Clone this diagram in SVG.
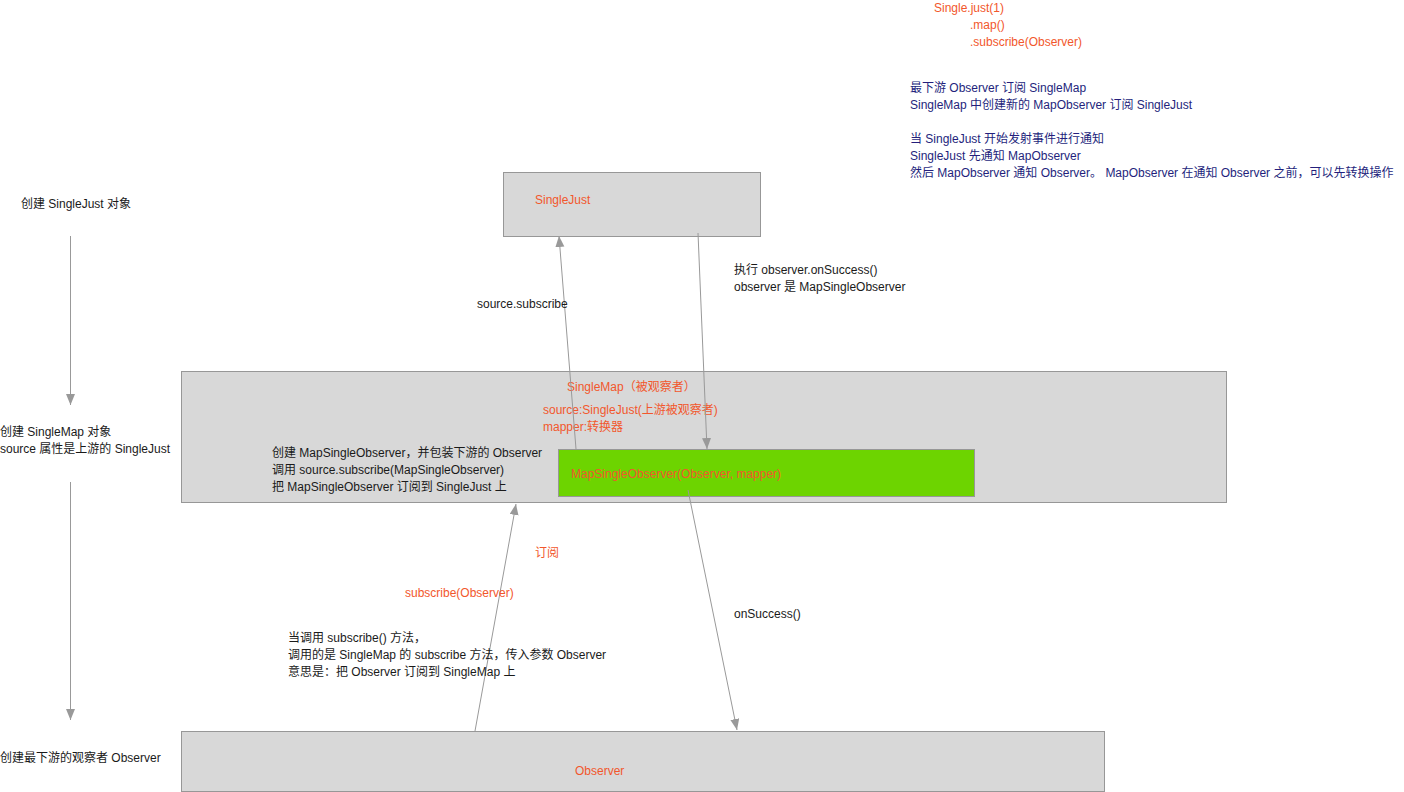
<svg xmlns="http://www.w3.org/2000/svg" width="1404" height="792" viewBox="0 0 1404 792">
  <style>
    text { font-family: "Liberation Sans", "Noto Sans CJK SC", sans-serif; font-size: 12px; }
    .blk { fill: #1a1a1a; }
    .org { fill: #f2572c; }
    .nav { fill: #241f7c; }
    .box { fill: #d8d8d8; stroke: #979797; stroke-width: 1; }
    .grn { fill: #6dd400; stroke: #979797; stroke-width: 1; }
    .edge { stroke: #999999; stroke-width: 1; fill: none; marker-end: url(#arrow); }
  </style>
  <defs>
    <marker id="arrow" markerUnits="userSpaceOnUse" markerWidth="12" markerHeight="10" refX="11" refY="4.5" orient="auto">
      <path d="M0,0 L11,4.5 L0,9 z" fill="#999999"/>
    </marker>
  </defs>
  <rect width="1404" height="792" fill="#ffffff"/>

  <!-- notes, top right -->
  <g id="code-note">
    <text class="org" x="934" y="12">Single.just(1)</text>
    <text class="org" x="970" y="29">.map()</text>
    <text class="org" x="970" y="46">.subscribe(Observer)</text>
  </g>
  <g id="summary-note">
    <text class="nav" x="910" y="92">最下游 Observer 订阅 SingleMap</text>
    <text class="nav" x="910" y="109">SingleMap 中创建新的 MapObserver 订阅 SingleJust</text>
    <text class="nav" x="910" y="143">当 SingleJust 开始发射事件进行通知</text>
    <text class="nav" x="910" y="160">SingleJust 先通知 MapObserver</text>
    <text class="nav" x="910" y="177">然后 MapObserver 通知 Observer。 MapObserver 在通知 Observer 之前，可以先转换操作</text>
  </g>

  <!-- creation steps, left column -->
  <g id="step-just">
    <text class="blk" x="21" y="208">创建 SingleJust 对象</text>
  </g>
  <g id="step-map">
    <text class="blk" x="0" y="436">创建 SingleMap 对象</text>
    <text class="blk" x="0" y="453">source 属性是上游的 SingleJust</text>
  </g>
  <g id="step-observer">
    <text class="blk" x="0" y="762">创建最下游的观察者 Observer</text>
  </g>

  <!-- nodes -->
  <g id="single-just">
    <rect class="box" x="503.5" y="172.5" width="257" height="64"/>
    <text class="org" x="535" y="204">SingleJust</text>
  </g>
  <g id="single-map">
    <rect class="box" x="181.5" y="371.5" width="1045" height="131"/>
    <text class="org" x="567" y="391">SingleMap（被观察者）</text>
    <text class="org" x="543" y="414">source:SingleJust(上游被观察者)</text>
    <text class="org" x="543" y="431">mapper:转换器</text>
    <text class="blk" x="272" y="457">创建 MapSingleObserver，并包装下游的 Observer</text>
    <text class="blk" x="272" y="474">调用 source.subscribe(MapSingleObserver)</text>
    <text class="blk" x="272" y="491">把 MapSingleObserver 订阅到 SingleJust 上</text>
  </g>
  <g id="map-single-observer">
    <rect class="grn" x="558.5" y="449.5" width="416" height="47"/>
    <text class="org" x="571" y="478">MapSingleObserver(Observer, mapper)</text>
  </g>
  <g id="observer">
    <rect class="box" x="181.5" y="731.5" width="923" height="60"/>
    <text class="org" x="575" y="775">Observer</text>
  </g>

  <!-- connectors -->
  <g id="connectors">
    <line class="edge" x1="70.5" y1="236" x2="70.5" y2="405"/>
    <line class="edge" x1="70.5" y1="482" x2="70.5" y2="720"/>
    <line class="edge" x1="576" y1="449" x2="559" y2="236"/>
    <line class="edge" x1="698" y1="233" x2="707" y2="449"/>
    <line class="edge" x1="475" y1="731" x2="516" y2="504"/>
    <line class="edge" x1="688" y1="490" x2="737" y2="730"/>
  </g>

  <!-- connector labels -->
  <g id="labels">
    <text class="blk" x="477" y="308">source.subscribe</text>
    <text class="blk" x="734" y="274">执行 observer.onSuccess()</text>
    <text class="blk" x="734" y="291">observer 是 MapSingleObserver</text>
    <text class="org" x="535" y="557">订阅</text>
    <text class="org" x="405" y="597">subscribe(Observer)</text>
    <text class="blk" x="734" y="618">onSuccess()</text>
    <text class="blk" x="288" y="642">当调用 subscribe() 方法，</text>
    <text class="blk" x="288" y="659">调用的是 SingleMap 的 subscribe 方法，传入参数 Observer</text>
    <text class="blk" x="288" y="676">意思是：把 Observer 订阅到 SingleMap 上</text>
  </g>
</svg>
